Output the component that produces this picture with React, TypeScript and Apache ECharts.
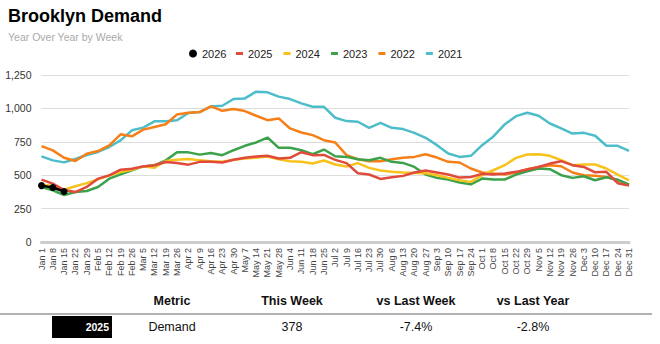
import React, { useEffect, useRef } from "react";
import * as echarts from "echarts";

const weeks = [
  "Jan 1", "Jan 8", "Jan 15", "Jan 22", "Jan 29",
  "Feb 5", "Feb 12", "Feb 19", "Feb 26",
  "Mar 5", "Mar 12", "Mar 19", "Mar 26",
  "Apr 2", "Apr 9", "Apr 16", "Apr 23", "Apr 30",
  "May 7", "May 14", "May 21", "May 28",
  "Jun 4", "Jun 11", "Jun 18", "Jun 25",
  "Jul 2", "Jul 9", "Jul 16", "Jul 23", "Jul 30",
  "Aug 6", "Aug 13", "Aug 20", "Aug 27",
  "Sep 3", "Sep 10", "Sep 17", "Sep 24",
  "Oct 1", "Oct 8", "Oct 15", "Oct 22", "Oct 29",
  "Nov 5", "Nov 12", "Nov 19", "Nov 26",
  "Dec 3", "Dec 10", "Dec 17", "Dec 24", "Dec 31",
];

const yearNames = ["2026", "2025", "2024", "2023", "2022", "2021"];

const s2026 = [422, 408, 378];
const s2025 = [467, 437, 389, 374, 412, 474, 499, 541, 549, 566, 574, 599, 591, 579, 600, 600, 595, 615, 630, 640, 645, 625, 630, 672, 650, 652, 615, 590, 515, 505, 472, 485, 495, 520, 535, 520, 505, 482, 487, 510, 505, 512, 525, 542, 562, 587, 605, 575, 562, 522, 525, 440, 422];
const s2024 = [430, 418, 392, 417, 441, 469, 499, 524, 541, 566, 556, 606, 616, 621, 611, 605, 600, 615, 625, 630, 640, 620, 605, 600, 588, 610, 580, 565, 590, 555, 535, 525, 520, 517, 515, 500, 480, 462, 450, 500, 537, 575, 630, 655, 657, 645, 612, 575, 580, 580, 550, 505, 462];
const s2023 = [412, 387, 352, 374, 382, 412, 474, 506, 536, 566, 574, 611, 672, 671, 654, 666, 650, 687, 720, 745, 782, 705, 705, 687, 657, 692, 642, 637, 620, 612, 630, 600, 592, 562, 505, 480, 467, 445, 432, 475, 467, 467, 505, 530, 550, 545, 500, 480, 492, 462, 485, 467, 430];
const s2022 = [718, 686, 631, 606, 661, 681, 723, 806, 791, 841, 861, 881, 955, 968, 973, 1015, 982, 995, 980, 945, 912, 925, 850, 820, 800, 762, 745, 650, 620, 605, 605, 620, 630, 637, 657, 632, 600, 595, 550, 520, 512, 505, 520, 545, 562, 575, 567, 520, 500, 495, 487, 462, 430];
const s2021 = [641, 611, 596, 621, 651, 674, 711, 761, 836, 856, 903, 903, 911, 966, 973, 1015, 1020, 1070, 1075, 1125, 1120, 1088, 1070, 1038, 1012, 1012, 930, 905, 900, 855, 892, 855, 845, 817, 780, 725, 662, 637, 645, 725, 790, 880, 942, 967, 945, 887, 850, 812, 817, 795, 720, 720, 682];

const colors = ["#000000", "#e04a3b", "#f6c21b", "#3ba24b", "#f77f17", "#4cbdc9"];

const tableHeaders = ["Metric", "This Week", "vs Last Week", "vs Last Year"];
const tableRowLabel = "2025";
const tableRow = ["Demand", "378", "-7.4%", "-2.8%"];
const tableX = [172, 292, 416, 533];

const FONT = "'Liberation Sans', Arial, Helvetica, sans-serif";

export default function App() {
  const ref = useRef<HTMLDivElement>(null);
  useEffect(() => {
    if (!ref.current) return;
    const chart = echarts.init(ref.current, undefined, { renderer: "svg" });
    const lineSeries = [s2025, s2024, s2023, s2022, s2021].map((d, k) => ({
      name: yearNames[k + 1],
      type: "line",
      data: d,
      symbol: "none",
      smooth: false,
      z: 10 - k,
      lineStyle: { width: 2.5, color: colors[k + 1] },
      itemStyle: { color: colors[k + 1] },
    }));
    const graphic: any[] = [];
    tableHeaders.forEach((h, i) => {
      graphic.push({
        type: "text",
        x: tableX[i],
        y: 301,
        style: {
          text: h,
          fontFamily: FONT,
          fontSize: 12.5,
          fontWeight: "bold",
          fill: "#111",
          textAlign: "center",
          textVerticalAlign: "middle",
        },
      });
    });
    graphic.push({
      type: "line",
      shape: { x1: 0, y1: 314, x2: 652, y2: 314 },
      style: { stroke: "#999", lineWidth: 1.5 },
    });
    graphic.push({
      type: "rect",
      shape: { x: 52, y: 316, width: 60, height: 22 },
      style: { fill: "#000" },
    });
    graphic.push({
      type: "text",
      x: 109,
      y: 327,
      style: {
        text: tableRowLabel,
        fontFamily: FONT,
        fontSize: 10.5,
        fontWeight: "bold",
        fill: "#fff",
        textAlign: "right",
        textVerticalAlign: "middle",
      },
    });
    tableRow.forEach((t, i) => {
      graphic.push({
        type: "text",
        x: tableX[i],
        y: 327,
        style: {
          text: t,
          fontFamily: FONT,
          fontSize: 12.5,
          fill: "#111",
          textAlign: "center",
          textVerticalAlign: "middle",
        },
      });
    });

    const legendText = { fontSize: 11, color: "#222", fontFamily: FONT };

    chart.setOption({
      animation: false,
      backgroundColor: "#fff",
      textStyle: { fontFamily: FONT },
      title: {
        text: "Brooklyn Demand",
        subtext: "Year Over Year by Week",
        left: 3,
        top: 2,
        itemGap: 6,
        textStyle: { fontSize: 18, fontWeight: "bold", color: "#000", fontFamily: FONT },
        subtextStyle: { fontSize: 10.5, color: "#aaa", fontFamily: FONT },
      },
      legend: [
        {
          left: 184,
          top: 43,
          itemWidth: 8,
          itemHeight: 8,
          itemGap: 11,
          textStyle: legendText,
          data: [{ name: "2026", icon: "circle" }],
        },
        {
          left: 231,
          top: 43,
          itemWidth: 7,
          itemHeight: 3,
          itemGap: 11,
          icon: "rect",
          textStyle: legendText,
          data: ["2025", "2024", "2023", "2022", "2021"],
        },
      ],
      grid: { left: 41.5, right: 31, top: 75, bottom: 102 },
      xAxis: {
        type: "category",
        data: weeks,
        boundaryGap: false,
        axisLine: { lineStyle: { color: "#ccc", width: 3 } },
        axisTick: { show: false },
        axisLabel: {
          rotate: 90,
          interval: 0,
          fontSize: 9,
          color: "#444",
          margin: 6,
          fontFamily: FONT,
        },
      },
      yAxis: {
        type: "value",
        min: 0,
        max: 1250,
        interval: 250,
        axisLine: { show: false },
        axisTick: { show: false },
        splitLine: { lineStyle: { color: "#ddd", width: 1 } },
        axisLabel: {
          fontSize: 10.5,
          color: "#333",
          margin: 10,
          fontFamily: FONT,
          formatter: (v: number) => v.toLocaleString("en-US"),
        },
      },
      series: [
        {
          name: "2026",
          type: "line",
          data: s2026,
          symbol: "circle",
          symbolSize: 7,
          showSymbol: true,
          z: 20,
          lineStyle: { width: 2.5, color: colors[0] },
          itemStyle: { color: colors[0] },
        },
        ...lineSeries,
      ],
      graphic,
    });
    return () => chart.dispose();
  }, []);
  return (
    <div
      ref={ref}
      style={{ position: "fixed", left: 0, top: 0, width: 660, height: 344, background: "#fff" }}
    />
  );
}
